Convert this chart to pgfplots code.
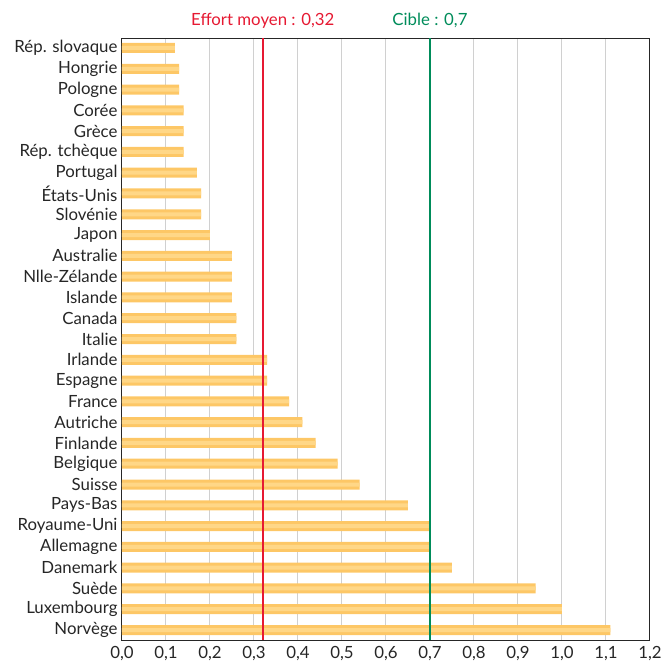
\documentclass[border=0pt]{standalone}
\usepackage{fontspec}
\setmainfont{Lato}
\usepackage{pgfplots}
\pgfplotsset{compat=1.18}
\definecolor{barfill}{RGB}{253,199,102}
\definecolor{barlight}{RGB}{255,215,135}
\definecolor{redline}{RGB}{230,25,50}
\definecolor{greenline}{RGB}{0,140,90}
\definecolor{gridc}{RGB}{208,208,208}
\begin{document}
\begin{tikzpicture}
\begin{axis}[
  name=ax,
  scale only axis,
  width=528pt, height=602pt,
  xmin=0, xmax=1.2,
  ymin=-0.48, ymax=28.48,
  y dir=reverse,
  xtick={0,0.1,...,1.2},
  ytick={0,...,28},
  yticklabels={Rép. slovaque,Hongrie,Pologne,Corée,Grèce,Rép. tchèque,Portugal,États-Unis,Slovénie,Japon,Australie,Nlle-Zélande,Islande,Canada,Italie,Irlande,Espagne,France,Autriche,Finlande,Belgique,Suisse,Pays-Bas,Royaume-Uni,Allemagne,Danemark,Suède,Luxembourg,Norvège},
  xticklabel style={yshift=-3pt, /pgf/number format/.cd, use comma, fixed, fixed zerofill, precision=1, assume math mode=true},
  tick label style={font=\fontsize{16.8}{18}\selectfont, text=black!85},
  yticklabel style={xshift=-1pt},
  major tick length=0pt,
  xmajorgrids,
  major grid style={gridc, line width=1pt},
  axis line style={black!85, line width=1pt},
  xbar, bar width=10pt,
  clip=false,
]
\addplot[fill=barfill, draw=none, bar shift=0pt] coordinates {
(0.12,0) (0.13,1) (0.13,2) (0.14,3) (0.14,4) (0.14,5) (0.17,6) (0.18,7) (0.18,8) (0.20,9)
(0.25,10) (0.25,11) (0.25,12) (0.26,13) (0.26,14) (0.33,15) (0.33,16) (0.38,17) (0.41,18) (0.44,19)
(0.49,20) (0.54,21) (0.65,22) (0.70,23) (0.70,24) (0.75,25) (0.94,26) (1.00,27) (1.11,28)};
\addplot[fill=barlight, draw=none, bar shift=0pt, bar width=4pt] coordinates {
(0.12,0) (0.13,1) (0.13,2) (0.14,3) (0.14,4) (0.14,5) (0.17,6) (0.18,7) (0.18,8) (0.20,9)
(0.25,10) (0.25,11) (0.25,12) (0.26,13) (0.26,14) (0.33,15) (0.33,16) (0.38,17) (0.41,18) (0.44,19)
(0.49,20) (0.54,21) (0.65,22) (0.70,23) (0.70,24) (0.75,25) (0.94,26) (1.00,27) (1.11,28)};
\addplot[draw=redline, line width=2.4pt, sharp plot] coordinates {(0.32,-0.48) (0.32,28.48)};
\addplot[draw=greenline, line width=2.4pt, sharp plot] coordinates {(0.7,-0.48) (0.7,28.48)};
\node[text=redline, font=\fontsize{16.8}{18}\selectfont, anchor=base] at (axis cs:0.32,-1.08) {Effort moyen : 0,32};
\node[text=greenline, font=\fontsize{16.8}{18}\selectfont, anchor=base] at (axis cs:0.7,-1.08) {Cible : 0,7};
\end{axis}
\pgfresetboundingbox
\path[use as bounding box] ([shift={(-122pt,-28pt)}]ax.south west) rectangle ([shift={(15pt,38pt)}]ax.north east);
\end{tikzpicture}
\end{document}
